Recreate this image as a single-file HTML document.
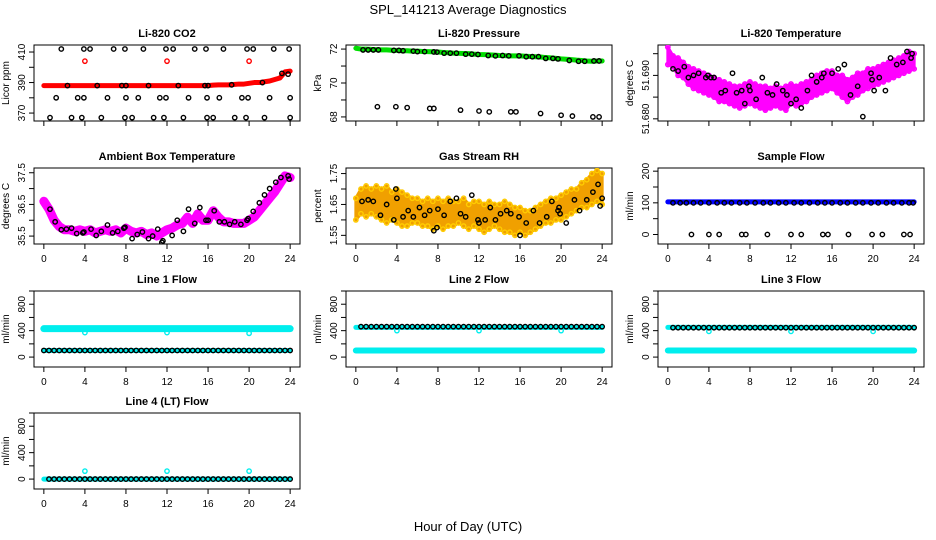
<!DOCTYPE html>
<html><head><meta charset="utf-8"><style>
body{margin:0;background:#fff;}
svg{display:block;font-family:"Liberation Sans",sans-serif;}
</style></head><body>
<svg id="chart" width="936" height="540" viewBox="0 0 936 540" xmlns="http://www.w3.org/2000/svg">
<text x="468" y="14" text-anchor="middle" font-size="13">SPL_141213  Average Diagnostics</text>
<text x="468" y="531" text-anchor="middle" font-size="13">Hour of Day (UTC)</text>
</svg>
<script>
// ---------- data ----------
const halfHours = [0,0.5,1,1.5,2,2.5,3,3.5,4,4.5,5,5.5,6,6.5,7,7.5,8,8.5,9,9.5,10,10.5,11,11.5,12,12.5,13,13.5,14,14.5,15,15.5,16,16.5,17,17.5,18,18.5,19,19.5,20,20.5,21,21.5,22,22.5,23,23.5,24];
const xTickLabels = ["0","4","8","12","16","20","24"];
const xTicks = [0,4,8,12,16,20,24];

// CO2
const co2Red = [388,388,388,388,388,388,388,388,388,388,388,388,388,388,388,388,388,388,388,388,388,388,388,388,388,388,388,388,388,388,388,388,388,388.3,388.5,388.5,388.5,388.7,389,389,389.5,390,390,390.5,391,392,393,397,397.5];
const co2RedBlipHours = [4,12,20];
const co2RedBlipValues = [404,404,404];
const co2MidHours = [2.3,5.2,7.6,8.0,10.2,13.1,15.7,16.0,18.3,21.3,23.2,23.8];
const co2MidValues = [388,388,388,388,388,388,388,388,388.5,390,396,395.5];
const co2LowHours = [1.2,3.3,3.9,6.2,8.0,9.2,11.3,11.9,14.1,15.9,17.1,19.3,19.9,22.0,24.0];
const co2LowValues = [380,380,380,380,380,380,380,380,380,380,380,380,380,380,380];
const co2TopHours = [1.7,3.9,4.5,6.8,7.9,9.7,11.9,12.6,14.7,15.8,17.5,19.8,20.4,22.4,23.9];
const co2TopValues = [412,412,412,412,412,412,412,412,412,412,412,412,412,412,412];
const co2BotHours = [0.6,2.7,3.7,5.6,7.9,8.6,10.7,11.7,13.6,15.9,16.5,18.6,19.7,21.5,24.0];
const co2BotValues = [367,367,367,367,367,367,367,367,367,367,367,367,367,367,367];

// Pressure
const presGreen = [72.05,72.0,72.0,71.98,71.97,71.95,71.95,71.93,71.92,71.9,71.9,71.88,71.88,71.86,71.85,71.84,71.83,71.8,71.78,71.76,71.75,71.74,71.73,71.7,71.68,71.67,71.66,71.64,71.62,71.61,71.6,71.6,71.6,71.58,71.56,71.55,71.53,71.5,71.48,71.45,71.42,71.4,71.38,71.35,71.33,71.3,71.28,71.3,71.3];
const presBlackHours = [0.7,1.2,1.7,2.2,3.7,4.2,4.6,5.6,6.0,6.7,7.6,7.9,8.6,9.2,9.8,10.7,11.3,11.9,12.9,13.6,14.3,14.9,15.9,16.6,17.2,17.8,18.5,19.2,19.7,20.8,21.7,22.3,23.2,23.7];
const presBlackValues = [71.95,71.95,71.95,71.95,71.92,71.92,71.9,71.88,71.85,71.85,71.83,71.82,71.76,71.76,71.76,71.7,71.7,71.68,71.62,71.6,71.62,71.6,71.6,71.55,71.55,71.55,71.45,71.45,71.42,71.33,71.28,71.28,71.3,71.3];
const presLowHours = [2.1,3.9,5.0,7.2,7.6,10.2,12.0,13.0,15.1,15.6,18.0,20.0,21.1,23.1,23.7];
const presLowValues = [68.6,68.6,68.55,68.5,68.5,68.4,68.35,68.3,68.3,68.3,68.2,68.1,68.05,68.0,68.0];

// Li-820 temperature
const tempHi = [51.6965,51.6945,51.694,51.693,51.692,51.6915,51.691,51.6905,51.690,51.6895,51.689,51.6885,51.688,51.6875,51.6875,51.688,51.6885,51.688,51.6875,51.6875,51.687,51.6875,51.687,51.6875,51.688,51.6875,51.688,51.6885,51.689,51.690,51.6905,51.691,51.691,51.690,51.690,51.689,51.6895,51.6905,51.6905,51.6915,51.6915,51.692,51.6925,51.693,51.6935,51.694,51.6945,51.6955,51.695];
const tempLo = [51.6925,51.692,51.690,51.6895,51.688,51.687,51.6865,51.686,51.6855,51.685,51.684,51.684,51.6835,51.683,51.6825,51.683,51.6835,51.683,51.6825,51.682,51.6825,51.683,51.6825,51.682,51.6835,51.683,51.6835,51.684,51.685,51.6855,51.686,51.6865,51.687,51.686,51.685,51.684,51.685,51.6855,51.6865,51.687,51.6875,51.688,51.6885,51.689,51.6895,51.690,51.6905,51.691,51.6915];
const tempBlackHours = [0.5,1.0,1.6,2.0,2.5,3.0,3.7,3.9,4.2,4.5,5.2,5.6,6.3,6.7,7.2,7.5,7.9,8.0,8.6,9.2,9.7,10.2,10.6,11.2,11.6,12.0,12.5,13.0,13.6,14.0,14.5,15.0,15.2,16.0,16.6,17.2,17.8,18.5,19.0,19.8,19.9,20.1,20.6,21.2,21.7,22.3,22.9,23.3,23.7,23.8];
const tempBlackValues = [51.6915,51.691,51.692,51.6895,51.690,51.6905,51.6895,51.690,51.6895,51.6895,51.686,51.6865,51.6905,51.686,51.6865,51.6835,51.6875,51.6865,51.6845,51.6895,51.686,51.6855,51.688,51.6865,51.6855,51.6835,51.6845,51.6825,51.6865,51.690,51.6885,51.6895,51.6905,51.6905,51.6915,51.6925,51.6855,51.6875,51.6805,51.6905,51.689,51.6865,51.6895,51.6865,51.694,51.6925,51.693,51.6955,51.694,51.695];

// Ambient box temperature
const ambMagenta = [36.6,36.35,36.0,35.8,35.7,35.7,35.65,35.7,35.65,35.7,35.6,35.65,35.7,35.65,35.7,35.6,35.75,35.65,35.6,35.65,35.55,35.6,35.5,35.6,35.7,35.75,35.85,35.9,36.1,35.9,36.2,36.0,36.0,36.3,36.1,35.95,35.95,35.9,35.9,35.9,36.0,36.1,36.3,36.5,36.7,36.9,37.15,37.4,37.35];
const ambBlackHours = [0.6,1.1,1.7,2.2,2.7,3.2,3.8,3.9,4.6,5.1,5.6,6.2,6.7,7.2,7.8,7.9,8.6,9.1,9.6,10.2,10.6,11.1,11.5,11.6,12.5,13.0,13.6,14.1,14.7,15.2,15.8,16.0,16.6,17.1,17.6,18.1,18.6,19.2,19.8,19.9,20.4,21.0,21.5,22.0,22.6,23.1,23.8,23.9];
const ambBlackValues = [36.35,35.95,35.7,35.72,35.75,35.58,35.6,35.63,35.72,35.52,35.65,35.85,35.6,35.65,35.75,35.78,35.42,35.55,35.63,35.42,35.5,35.72,35.3,35.35,35.52,36.0,35.65,36.35,35.9,36.4,36.0,36.0,36.3,35.95,35.95,35.87,35.95,35.87,36.0,36.05,36.28,36.55,36.8,37.0,37.2,37.35,37.4,37.3];

// Gas stream RH
const rhHi = [1.67,1.70,1.71,1.70,1.71,1.70,1.71,1.69,1.70,1.69,1.68,1.67,1.67,1.66,1.67,1.66,1.67,1.66,1.67,1.66,1.66,1.67,1.65,1.66,1.66,1.65,1.66,1.65,1.65,1.66,1.65,1.64,1.64,1.63,1.63,1.64,1.65,1.66,1.67,1.67,1.68,1.69,1.70,1.70,1.72,1.73,1.75,1.76,1.75];
const rhLo = [1.60,1.62,1.61,1.62,1.61,1.60,1.59,1.60,1.59,1.58,1.58,1.59,1.59,1.58,1.58,1.57,1.58,1.57,1.58,1.58,1.59,1.58,1.57,1.58,1.57,1.56,1.57,1.58,1.57,1.56,1.56,1.55,1.56,1.55,1.56,1.57,1.58,1.59,1.59,1.60,1.60,1.61,1.62,1.63,1.64,1.64,1.65,1.66,1.65];
const rhBlackHours = [0.6,1.2,1.7,2.4,3.0,3.7,3.9,4.0,4.6,5.1,5.6,6.2,6.7,7.2,7.6,7.9,8.0,8.6,9.2,9.8,10.2,10.7,11.3,11.9,12.0,12.6,13.1,13.6,14.1,14.7,15.1,15.9,16.0,16.6,17.3,17.9,18.6,19.1,19.7,19.8,19.9,20.5,21.3,21.8,22.5,23.1,23.6,23.8,24.0];
const rhBlackValues = [1.66,1.665,1.66,1.615,1.65,1.60,1.70,1.67,1.61,1.63,1.61,1.64,1.615,1.63,1.565,1.575,1.635,1.615,1.66,1.67,1.62,1.61,1.68,1.60,1.59,1.60,1.64,1.60,1.62,1.63,1.62,1.61,1.55,1.59,1.63,1.59,1.61,1.66,1.63,1.64,1.62,1.59,1.665,1.63,1.665,1.69,1.715,1.645,1.67];

// Sample flow
const sampleBlue = [103,103,103,103,103,103,103,103,103,103,103,103,103,103,103,103,103,103,103,103,103,103,103,103,103,103,103,103,103,103,103,103,103,103,103,103,103,103,103,103,103,103,103,103,103,103,103,103,103];
const sampleBlackHours = [0.5,1.2,1.8,2.5,3.2,4.0,4.8,5.5,6.2,7.0,7.7,8.5,9.3,10.0,10.8,11.5,12.3,13.0,13.8,14.6,15.3,16.0,16.8,17.5,18.3,19.0,19.8,20.5,21.3,22.0,22.8,23.5,23.9];
const sampleBlackValues = [100,100,100,100,100,100,100,100,100,100,100,100,100,100,100,100,100,100,100,100,100,100,100,100,100,100,100,100,100,100,100,100,100];
const sampleZeroHours = [2.3,4.0,5.0,7.2,7.6,9.7,12.0,13.0,15.1,15.6,17.6,19.9,20.9,23.0,23.6];
const sampleZeroValues = [0,0,0,0,0,0,0,0,0,0,0,0,0,0,0];

// Line flows
const line1Cyan = [430,430,430,430,430,430,430,430,430,430,430,430,430,430,430,430,430,430,430,430,430,430,430,430,430,430,430,430,430,430,430,430,430,430,430,430,430,430,430,430,430,430,430,430,430,430,430,430,430];
const line1CyanLow = [100,100,100,100,100,100,100,100,100,100,100,100,100,100,100,100,100,100,100,100,100,100,100,100,100,100,100,100,100,100,100,100,100,100,100,100,100,100,100,100,100,100,100,100,100,100,100,100,100];
const line1Black = [100,100,100,100,100,100,100,100,100,100,100,100,100,100,100,100,100,100,100,100,100,100,100,100,100,100,100,100,100,100,100,100,100,100,100,100,100,100,100,100,100,100,100,100,100,100,100,100,100];
const blipHours = [4,12,20];
const line1BlipValues = [370,370,360];
const line2Cyan = [450,450,450,450,450,450,450,450,450,450,450,450,450,450,450,450,450,450,450,450,450,450,450,450,450,450,450,450,450,450,450,450,450,450,450,450,450,450,450,450,450,450,450,450,450,450,450,450,450];
const line2CyanLow = [100,100,100,100,100,100,100,100,100,100,100,100,100,100,100,100,100,100,100,100,100,100,100,100,100,100,100,100,100,100,100,100,100,100,100,100,100,100,100,100,100,100,100,100,100,100,100,100,100];
const line2Black = [460,460,460,460,460,460,460,460,460,460,460,460,460,460,460,460,460,460,460,460,460,460,460,460,460,460,460,460,460,460,460,460,460,460,460,460,460,460,460,460,460,460,460,460,460,460,460,460,460];
const line2BlipValues = [400,400,400];
const line3Cyan = line2Cyan;
const line3CyanLow = line2CyanLow;
const line3Black = [445,445,445,445,445,445,445,445,445,445,445,445,445,445,445,445,445,445,445,445,445,445,445,445,445,445,445,445,445,445,445,445,445,445,445,445,445,445,445,445,445,445,445,445,445,445,445,445,445];
const line3BlipValues = [390,390,390];
const line4Cyan = [0,0,0,0,0,0,0,0,0,0,0,0,0,0,0,0,0,0,0,0,0,0,0,0,0,0,0,0,0,0,0,0,0,0,0,0,0,0,0,0,0,0,0,0,0,0,0,0,0];
const line4Black = line4Cyan;
const line4BlipValues = [120,120,120];

// ---------- drawing ----------
const svg = document.getElementById('chart');
const NS = 'http://www.w3.org/2000/svg';
const colLeft = [34, 346, 658];
const rowTop = [45, 168, 291, 413];
const boxW = 266, boxH = 76;

function mk(tag, attrs, parent) {
  const e = document.createElementNS(NS, tag);
  for (const k in attrs) e.setAttribute(k, attrs[k]);
  (parent || svg).appendChild(e);
  return e;
}

function panel(name, col, row, title, ylab, ylim, yTicks, yLabels, showXLabels) {
  const g = mk('g', {});
  
  
  const L = colLeft[col], T = rowTop[row];
  const xs = v => L + (v + 0.96) / 25.92 * boxW;
  const ys = v => T + boxH - (v - ylim[0]) / (ylim[1] - ylim[0]) * boxH;
  const t = mk('text', {x: L + boxW / 2, y: T - 8, 'text-anchor': 'middle', 'font-size': 11, 'font-weight': 'bold'}, g);
  
  
  t.textContent = title;
  const box = mk('rect', {x: L, y: T, width: boxW, height: boxH, fill: 'none', stroke: '#000', 'stroke-width': 1}, g);
  
  
  const xa = mk('g', {}, g);
  
  
  xTicks.forEach((v, i) => {
    mk('line', {x1: xs(v), x2: xs(v), y1: T + boxH, y2: T + boxH + 5, stroke: '#000'}, xa);
    if (showXLabels) {
      const tl = mk('text', {x: xs(v), y: T + boxH + 18, 'text-anchor': 'middle', 'font-size': 10}, xa);
      tl.textContent = xTickLabels[i];
    }
  });
  const ya = mk('g', {}, g);
  
  
  yTicks.forEach((v, i) => {
    const y = ys(v);
    mk('line', {x1: L - 5, x2: L, y1: y, y2: y, stroke: '#000'}, ya);
    if (yLabels[i]) {
      const tl = mk('text', {x: L - 9, y: y, 'text-anchor': 'middle', 'font-size': 10, transform: `rotate(-90 ${L - 9} ${y})`}, ya);
      tl.textContent = yLabels[i];
    }
  });
  const yl = mk('text', {x: L - 25, y: T + boxH / 2, 'text-anchor': 'middle', 'font-size': 10, transform: `rotate(-90 ${L - 25} ${T + boxH / 2})`}, g);
  
  
  yl.textContent = ylab;
  const clipId = 'clip-' + name;
  const cp = mk('clipPath', {id: clipId}, g);
  mk('rect', {x: L, y: T, width: boxW, height: boxH}, cp);
  const marks = mk('g', {'clip-path': `url(#${clipId})`}, g);
  return {
    pts(hours, vals, color, sname, r, sw) {
      const sg = mk('g', {}, marks);
      
      
      hours.forEach((h, i) => {
        mk('circle', {cx: xs(h), cy: ys(vals[i]), r: r || 2.2, fill: 'none', stroke: color, 'stroke-width': sw || 1.4}, sg);
      });
    },
    band(hours, vals, color, sname, w) {
      const sg = mk('g', {}, marks);
      
      
      mk('polyline', {points: hours.map((h, i) => xs(h) + ',' + ys(vals[i])).join(' '), fill: 'none', stroke: color, 'stroke-width': w, 'stroke-linejoin': 'round', 'stroke-linecap': 'round'}, sg);
    },
    area(hours, hi, lo, color, sname) {
      const sg = mk('g', {}, marks);
      
      
      const p = hours.map((h, i) => xs(h) + ',' + ys(hi[i])).concat(hours.slice().reverse().map((h, j) => xs(h) + ',' + ys(lo[hours.length - 1 - j])));
      mk('polygon', {points: p.join(' '), fill: color, stroke: color, 'stroke-width': 3, 'stroke-linejoin': 'round'}, sg);
    }
  };
}

// Row 1
let p = panel('co2', 0, 0, 'Li-820 CO2', 'Licor ppm', [364.8, 414.6], [370,380,390,400,410], ['370','','390','','410'], false);
p.band(halfHours, co2Red, '#ff0000', 'co2-series', 5);
p.pts(co2RedBlipHours, co2RedBlipValues, '#ff0000', 'co2-outliers');
p.pts(co2MidHours, co2MidValues, '#000', 'co2-avg');
p.pts(co2LowHours, co2LowValues, '#000', 'co2-low');
p.pts(co2TopHours, co2TopValues, '#000', 'co2-top');
p.pts(co2BotHours, co2BotValues, '#000', 'co2-bottom');

p = panel('pressure', 1, 0, 'Li-820 Pressure', 'kPa', [67.76, 72.24], [68,69,70,71,72], ['68','','70','','72'], false);
p.band(halfHours, presGreen, '#00dd00', 'pressure-series', 5);
p.pts(presBlackHours, presBlackValues, '#000', 'pressure-avg');
p.pts(presLowHours, presLowValues, '#000', 'pressure-low');

p = panel('li820-temp', 2, 0, 'Li-820 Temperature', 'degrees C', [51.6795, 51.6970], [51.680,51.685,51.690,51.695], ['51.680','','51.690',''], false);
p.area(halfHours, tempHi, tempLo, '#ff00ff', 'temp-cloud');
p.pts(halfHours, tempHi, '#ff00ff', 'temp-upper');
p.pts(halfHours, tempLo, '#ff00ff', 'temp-lower');
p.pts(tempBlackHours, tempBlackValues, '#000', 'temp-avg');

// Row 2
p = panel('ambient', 0, 1, 'Ambient Box Temperature', 'degrees C', [35.25, 37.65], [35.5,36.0,36.5,37.0,37.5], ['35.5','','36.5','','37.5'], true);
p.band(halfHours, ambMagenta, '#ff00ff', 'ambient-series', 9);
p.pts(ambBlackHours, ambBlackValues, '#000', 'ambient-avg');

p = panel('rh', 1, 1, 'Gas Stream RH', 'percent', [1.522, 1.768], [1.55,1.60,1.65,1.70,1.75], ['1.55','','1.65','','1.75'], true);
p.area(halfHours, rhHi, rhLo, '#f0a000', 'rh-cloud');
p.pts(halfHours, rhHi, '#ffcc00', 'rh-upper');
p.pts(halfHours, rhLo, '#ffcc00', 'rh-lower');
p.pts(rhBlackHours, rhBlackValues, '#000', 'rh-avg');

p = panel('sample-flow', 2, 1, 'Sample Flow', 'ml/min', [-30, 210], [0,50,100,150,200], ['0','','100','','200'], true);
p.band(halfHours, sampleBlue, '#0000ff', 'sample-series', 5);
p.pts(sampleBlackHours, sampleBlackValues, '#000', 'sample-avg');
p.pts(sampleZeroHours, sampleZeroValues, '#000', 'sample-zero');

// Row 3
const flowLim = [-150, 1000], flowTicks = [0,200,400,600,800,1000], flowLabels = ['0','','400','','800',''];
p = panel('line1-flow', 0, 2, 'Line 1 Flow', 'ml/min', flowLim, flowTicks, flowLabels, true);
p.band(halfHours, line1Cyan, '#00eeee', 'line1-high', 7);
p.band(halfHours, line1CyanLow, '#00eeee', 'line1-low', 5);
p.pts(blipHours, line1BlipValues, '#00eeee', 'line1-blips');
p.pts(halfHours, line1Black, '#000', 'line1-avg');

p = panel('line2-flow', 1, 2, 'Line 2 Flow', 'ml/min', flowLim, flowTicks, flowLabels, true);
p.band(halfHours, line2CyanLow, '#00eeee', 'line2-low', 6);
p.band(halfHours, line2Cyan, '#00eeee', 'line2-high', 5);
p.pts(blipHours, line2BlipValues, '#00eeee', 'line2-blips');
p.pts(halfHours.slice(1), line2Black.slice(1), '#000', 'line2-avg');

p = panel('line3-flow', 2, 2, 'Line 3 Flow', 'ml/min', flowLim, flowTicks, flowLabels, true);
p.band(halfHours, line3CyanLow, '#00eeee', 'line3-low', 6);
p.band(halfHours, line3Cyan, '#00eeee', 'line3-high', 5);
p.pts(blipHours, line3BlipValues, '#00eeee', 'line3-blips');
p.pts(halfHours.slice(1), line3Black.slice(1), '#000', 'line3-avg');

// Row 4
p = panel('line4-flow', 0, 3, 'Line 4 (LT) Flow', 'ml/min', flowLim, flowTicks, flowLabels, true);
p.band(halfHours, line4Cyan, '#00eeee', 'line4-series', 5);
p.pts(blipHours, line4BlipValues, '#00eeee', 'line4-blips');
p.pts(halfHours.slice(1), line4Black.slice(1), '#000', 'line4-avg');
</script>
</body></html>
